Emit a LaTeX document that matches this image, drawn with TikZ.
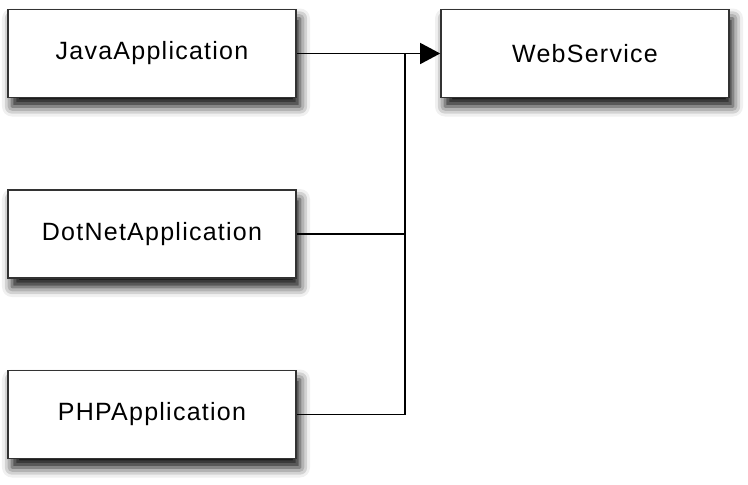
\documentclass[tikz,border=0pt]{standalone}
\usepackage{fontspec}
\newfontfamily\boxfont[LetterSpace=5]{Liberation Sans}
\usetikzlibrary{arrows.meta, shadows.blur}
\tikzset{
    caja/.style={draw=black!80, fill=white, line width=1.6pt, minimum width=288pt,
        minimum height=88pt, inner sep=0pt,
        font=\boxfont\fontsize{25}{29}\selectfont,
        blur shadow={shadow xshift=4pt, shadow yshift=-9pt, shadow blur radius=10pt, shadow opacity=95}},
    linea/.style={line width=1.4pt, black},
}
\begin{document}
\begin{tikzpicture}[x=1pt, y=-1pt]
\useasboundingbox (0,0) rectangle (748,485);
% clientes
\node[caja] (java) at (152,53.5) {\raisebox{-3pt}{JavaApplication}};
\node[caja] (dotnet) at (152,234) {\raisebox{-3pt}{DotNetApplication}};
\node[caja] (php) at (152,414.5) {\raisebox{-3pt}{PHPApplication}};
% servicio
\node[caja] (ws) at (585,53.5) {\raisebox{-3pt}{WebService}};
% conexiones
\coordinate (union) at (405,53.5);
\draw[linea, -{Triangle[length=20pt, width=21pt]}] (java) -- (ws);
\draw[linea] (dotnet) -| (union);
\draw[linea] (php) -| (union);
\end{tikzpicture}
\end{document}
